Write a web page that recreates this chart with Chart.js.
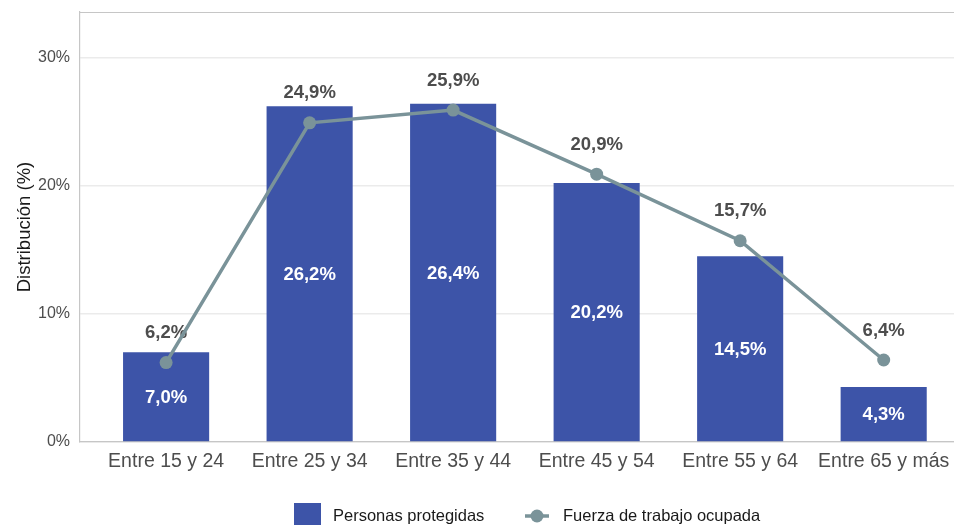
<!DOCTYPE html>
<html>
<head>
<meta charset="utf-8">
<script src="https://cdn.jsdelivr.net/npm/chart.js@4"></script>
<style>
  html, body { margin: 0; padding: 0; background: #ffffff; overflow: hidden; }
  canvas { display: block; }
</style>
</head>
<body>
<canvas id="chart" width="954" height="525"></canvas>
<script>
// Age groups and the two distributions (percent)
const categories = ['Entre 15 y 24', 'Entre 25 y 34', 'Entre 35 y 44', 'Entre 45 y 54', 'Entre 55 y 64', 'Entre 65 y más'];
const personasProtegidas = [7.0, 26.2, 26.4, 20.2, 14.5, 4.3];
const fuerzaTrabajo = [6.2, 24.9, 25.9, 20.9, 15.7, 6.4];
const yTicks = [0, 10, 20, 30];

const FONT = "'Liberation Sans', Arial, Helvetica, sans-serif";
const BAR_COLOR = '#3D54A8';
const LINE_COLOR = '#7A9399';
const TEXT_COLOR = '#4D4D4D';
const BORDER_COLOR = '#C6C6C6';

const fmt = v => v.toFixed(1).replace('.', ',') + '%';

// Value labels, drawn right after the bars so the line passes over them:
// white inside the bars, dark above the line points
const valueLabels = {
  id: 'valueLabels',
  afterDatasetDraw(chart, args) {
    if (args.index !== 0) return;
    const ctx = chart.ctx;
    ctx.save();
    ctx.font = `bold 18.5px ${FONT}`;
    ctx.textAlign = 'center';
    ctx.textBaseline = 'middle';
    const barMeta = chart.getDatasetMeta(0);
    barMeta.data.forEach((el, i) => {
      ctx.fillStyle = '#FFFFFF';
      ctx.fillText(fmt(personasProtegidas[i]), el.x, (el.y + el.base) / 2 + 1);
    });
    const lineMeta = chart.getDatasetMeta(1);
    lineMeta.data.forEach((el, i) => {
      ctx.fillStyle = TEXT_COLOR;
      ctx.fillText(fmt(fuerzaTrabajo[i]), el.x, el.y - 29.5);
    });
    ctx.restore();
  }
};

// Top edge of the panel
const panelTop = {
  id: 'panelTop',
  beforeDatasetsDraw(chart) {
    const { ctx, chartArea } = chart;
    ctx.save();
    ctx.strokeStyle = BORDER_COLOR;
    ctx.lineWidth = 1.2;
    ctx.beginPath();
    ctx.moveTo(chartArea.left, chartArea.top + 0.5);
    ctx.lineTo(chartArea.right, chartArea.top + 0.5);
    ctx.stroke();
    ctx.restore();
  }
};

// Legend below the axis: filled square for bars, line with dot for the series line
const bottomLegend = {
  id: 'bottomLegend',
  afterDraw(chart) {
    const ctx = chart.ctx;
    const cy = 516;
    ctx.save();
    ctx.font = `16.5px ${FONT}`;
    ctx.textBaseline = 'middle';
    ctx.textAlign = 'left';

    ctx.fillStyle = BAR_COLOR;
    ctx.fillRect(294, cy - 13, 27, 26);
    ctx.fillStyle = '#1A1A1A';
    ctx.fillText(chart.data.datasets[0].label, 333, cy);

    ctx.strokeStyle = LINE_COLOR;
    ctx.lineWidth = 3.5;
    ctx.beginPath();
    ctx.moveTo(525, cy);
    ctx.lineTo(549, cy);
    ctx.stroke();
    ctx.fillStyle = LINE_COLOR;
    ctx.beginPath();
    ctx.arc(537, cy, 6.5, 0, Math.PI * 2);
    ctx.fill();
    ctx.fillStyle = '#1A1A1A';
    ctx.fillText(chart.data.datasets[1].label, 563, cy);
    ctx.restore();
  }
};

new Chart(document.getElementById('chart'), {
  data: {
    datasets: [
      {
        type: 'bar',
        label: 'Personas protegidas',
        data: personasProtegidas.map((v, i) => ({ x: i, y: v })),
        backgroundColor: BAR_COLOR,
        borderWidth: 0,
        categoryPercentage: 1,
        barPercentage: 0.6,
        order: 2
      },
      {
        type: 'line',
        label: 'Fuerza de trabajo ocupada',
        data: fuerzaTrabajo.map((v, i) => ({ x: i, y: v })),
        borderColor: LINE_COLOR,
        backgroundColor: LINE_COLOR,
        borderWidth: 3.5,
        pointRadius: 6.5,
        pointBackgroundColor: LINE_COLOR,
        pointBorderWidth: 0,
        tension: 0,
        order: 1
      }
    ]
  },
  options: {
    responsive: false,
    animation: false,
    devicePixelRatio: 1,
    layout: { autoPadding: false, padding: { top: 12, right: 0, bottom: 0, left: 0 } },
    plugins: {
      legend: { display: false },
      tooltip: { enabled: false }
    },
    scales: {
      x: {
        type: 'linear',
        bounds: 'data',
        offset: false,
        min: -0.6,
        max: 5.49,
        afterBuildTicks: scale => { scale.ticks = categories.map((_, i) => ({ value: i })); },
        afterFit: scale => {
          scale.height = 83;
          scale.paddingLeft = 0;
          scale.paddingRight = 0;
        },
        ticks: {
          autoSkip: false,
          maxRotation: 0,
          padding: 0,
          color: TEXT_COLOR,
          font: { family: FONT, size: 19.5 },
          callback: v => categories[v]
        },
        grid: { display: false },
        border: { display: true, color: BORDER_COLOR, width: 1.2 }
      },
      y: {
        type: 'linear',
        bounds: 'data',
        min: 0,
        max: 33.55,
        afterBuildTicks: scale => { scale.ticks = yTicks.map(v => ({ value: v })); },
        afterFit: scale => {
          scale.width = 80;
          scale.paddingTop = 0;
          scale.paddingBottom = 0;
        },
        ticks: {
          padding: 10,
          color: TEXT_COLOR,
          font: { family: FONT, size: 16 },
          callback: v => v + '%'
        },
        grid: { color: '#EBEBEB', lineWidth: 1.6, drawTicks: false },
        border: { display: true, color: BORDER_COLOR, width: 1.2 },
        title: {
          display: true,
          text: 'Distribución (%)',
          color: '#1A1A1A',
          font: { family: FONT, size: 18.5 },
          padding: { top: 14, bottom: 0 }
        }
      }
    }
  },
  plugins: [valueLabels, panelTop, bottomLegend]
});
</script>
</body>
</html>
